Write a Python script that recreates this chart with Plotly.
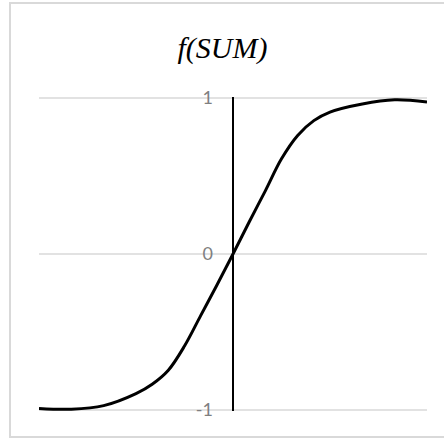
import plotly.graph_objects as go

# Data
x_vals = [-3, -2.5, -2, -1.5, -1.25, -1, -0.75, -0.5, -0.25, 0,
          0.25, 0.5, 0.75, 1, 1.25, 1.5, 2, 2.5, 3]
y_vals = [-0.99, -0.995, -0.972, -0.895, -0.835, -0.745, -0.59, -0.395, -0.20, 0.0,
          0.205, 0.405, 0.61, 0.76, 0.855, 0.91, 0.962, 0.988, 0.975]
y_ticks = [-1, 0, 1]
y_tick_text = ["-1", "0", "1"]
title_text = "f(SUM)"

fig = go.Figure()
fig.add_trace(go.Scatter(
    x=x_vals, y=y_vals, mode="lines",
    line=dict(color="black", width=3, shape="spline", smoothing=1.0),
    showlegend=False, hoverinfo="skip",
))

W, H = 444, 439
L, R, T, B = 39, 17, 97, 28
plot_h = H - T - B
plot_w = W - L - R
pad = 0.0064

fig.update_layout(
    width=W, height=H,
    margin=dict(l=L, r=R, t=T, b=B, pad=0),
    paper_bgcolor="white", plot_bgcolor="white",
    title=dict(text=title_text, x=222.5 / W, xanchor="center",
               y=1 - 47 / H, yanchor="middle",
               font=dict(family="Liberation Serif", size=30, color="black", style="italic")),
    xaxis=dict(range=[-3, 3], showgrid=False, showticklabels=False, ticks="",
               zeroline=True, zerolinecolor="black", zerolinewidth=2, showline=False,
               fixedrange=True),
    yaxis=dict(range=[-1 - pad, 1 + pad], tickvals=y_ticks, ticktext=y_tick_text,
               showgrid=False, zeroline=False, showline=False, ticks="",
               anchor="free", position=0.5, ticklabelstandoff=20,
               tickfont=dict(family="Lato", size=18, color="#7f7f7f"),
               fixedrange=True),
)

# horizontal gridlines at the tick values
for v in y_ticks:
    fig.add_shape(type="line", xref="paper", yref="y", x0=0, x1=1, y0=v, y1=v,
                  line=dict(color="#d9d9d9", width=1.5), layer="below")

# Outer chart border (light gray), right edge lies outside the visible picture
y_top = (H - B - 3) / plot_h
y_bot = (H - B - 437) / plot_h
fig.add_shape(type="rect", xref="paper", yref="paper",
              x0=(10 - L) / plot_w, x1=(447 - L) / plot_w,
              y0=y_bot, y1=y_top,
              line=dict(color="#d9d9d9", width=2), layer="below")

fig.write_html("out.html", config={"displayModeBar": False},
               post_script="document.body.style.margin='0';")
